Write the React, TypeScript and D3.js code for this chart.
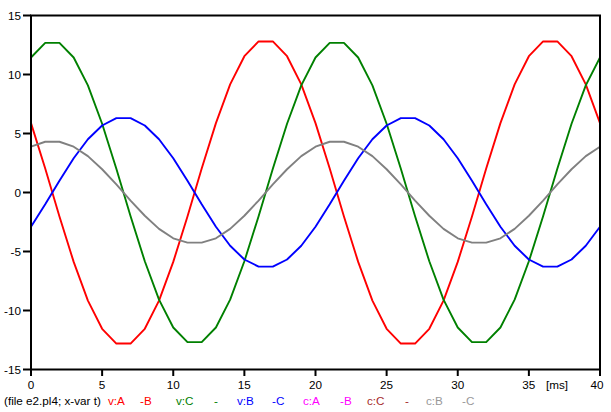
import React from "react";
import * as d3 from "d3";

const times = [0,1,2,3,4,5,6,7,8,9,10,11,12,13,14,15,16,17,18,19,20,21,22,23,24,25,26,27,28,29,30,31,32,33,34,35,36,37,38,39,40];

const vAB = [5.88,2.03,-2.03,-5.88,-9.16,-11.55,-12.8,-12.8,-11.55,-9.16,-5.88,-2.03,2.03,5.88,9.16,11.55,12.8,12.8,11.55,9.16,5.88,2.03,-2.03,-5.88,-9.16,-11.55,-12.8,-12.8,-11.55,-9.16,-5.88,-2.03,2.03,5.88,9.16,11.55,12.8,12.8,11.55,9.16,5.88];
const vC = [11.44,12.68,12.68,11.44,9.08,5.83,2.01,-2.01,-5.83,-9.08,-11.44,-12.68,-12.68,-11.44,-9.08,-5.83,-2.01,2.01,5.83,9.08,11.44,12.68,12.68,11.44,9.08,5.83,2.01,-2.01,-5.83,-9.08,-11.44,-12.68,-12.68,-11.44,-9.08,-5.83,-2.01,2.01,5.83,9.08,11.44];
const vBC = [-2.9,-1.0,1.0,2.9,4.51,5.68,6.3,6.3,5.68,4.51,2.9,1.0,-1.0,-2.9,-4.51,-5.68,-6.28,-6.28,-5.68,-4.51,-2.9,-1.0,1.0,2.9,4.51,5.68,6.3,6.3,5.68,4.51,2.9,1.0,-1.0,-2.9,-4.51,-5.68,-6.28,-6.28,-5.68,-4.51,-2.9];
const cBC = [3.88,4.3,4.3,3.88,3.08,1.97,0.68,-0.68,-1.97,-3.08,-3.88,-4.25,-4.25,-3.88,-3.08,-1.97,-0.68,0.68,1.97,3.08,3.88,4.3,4.3,3.88,3.08,1.97,0.68,-0.68,-1.97,-3.08,-3.88,-4.25,-4.25,-3.88,-3.08,-1.97,-0.68,0.68,1.97,3.08,3.88];

const xTicks = [0,5,10,15,20,25,30,35,40];
const yTicks = [-15,-10,-5,0,5,10,15];

const legendItems = [
  { text: "(file e2.pl4; x-var t)", color: "#000000", x: 4 },
  { text: "v:A", color: "#ff0000", x: 108 },
  { text: "-B", color: "#ff0000", x: 140 },
  { text: "v:C", color: "#008000", x: 176 },
  { text: "-", color: "#008000", x: 214 },
  { text: "v:B", color: "#0000ff", x: 237 },
  { text: "-C", color: "#0000ff", x: 272 },
  { text: "c:A", color: "#ff00ff", x: 303 },
  { text: "-B", color: "#ff00ff", x: 340 },
  { text: "c:C", color: "#a52a2a", x: 367 },
  { text: "-", color: "#a52a2a", x: 405 },
  { text: "c:B", color: "#999999", x: 426 },
  { text: "-C", color: "#999999", x: 462 },
];

const series = [
  { values: vAB, color: "#ff0000" },
  { values: vC, color: "#008000" },
  { values: vBC, color: "#0000ff" },
  { values: cBC, color: "#808080" },
];

export default function App() {
  const W = 611, H = 412;
  const x = d3.scaleLinear().domain([0, 40]).range([31, 600]);
  const y = d3.scaleLinear().domain([-15, 15]).range([369.5, 15.5]);
  const font = "Liberation Sans, Arial, Helvetica, sans-serif";
  const fs = 11.7;

  return (
    <svg width={W} height={H} style={{ position: "absolute", left: 0, top: 0, background: "#fff" }}>
      <rect x={0} y={0} width={W} height={H} fill="#fff" />
      {series.map((s, i) => {
        const line = d3.line<number>()
          .x((_, j) => x(times[j]))
          .y((d) => y(d));
        return (
          <path key={i} d={line(s.values) || ""} fill="none" stroke={s.color} strokeWidth={1.9} strokeLinejoin="round" />
        );
      })}
      <rect x={x(0)} y={y(15)} width={x(40) - x(0)} height={y(-15) - y(15)} fill="none" stroke="#000" strokeWidth={2} />
      {yTicks.map((t) => (
        <g key={"y" + t}>
          <line x1={23} x2={x(0)} y1={y(t)} y2={y(t)} stroke="#000" strokeWidth={2} />
          <text x={21} y={y(t) + 4} textAnchor="end" fontFamily={font} fontSize={fs} fill="#000">{t}</text>
        </g>
      ))}
      {xTicks.map((t) => (
        <g key={"x" + t}>
          <line x1={x(t)} x2={x(t)} y1={y(-15)} y2={y(-15) + 6.5} stroke="#000" strokeWidth={2} />
          <text x={t === 40 ? x(t) - 3 : x(t)} y={389} textAnchor="middle" fontFamily={font} fontSize={fs} fill="#000">{t}</text>
        </g>
      ))}
      <text x={546} y={389} fontFamily={font} fontSize={fs} fill="#000">[ms]</text>
      {legendItems.map((l, i) => (
        <text key={i} x={l.x} y={405} fontFamily={font} fontSize={fs} fill={l.color}>{l.text}</text>
      ))}
    </svg>
  );
}
